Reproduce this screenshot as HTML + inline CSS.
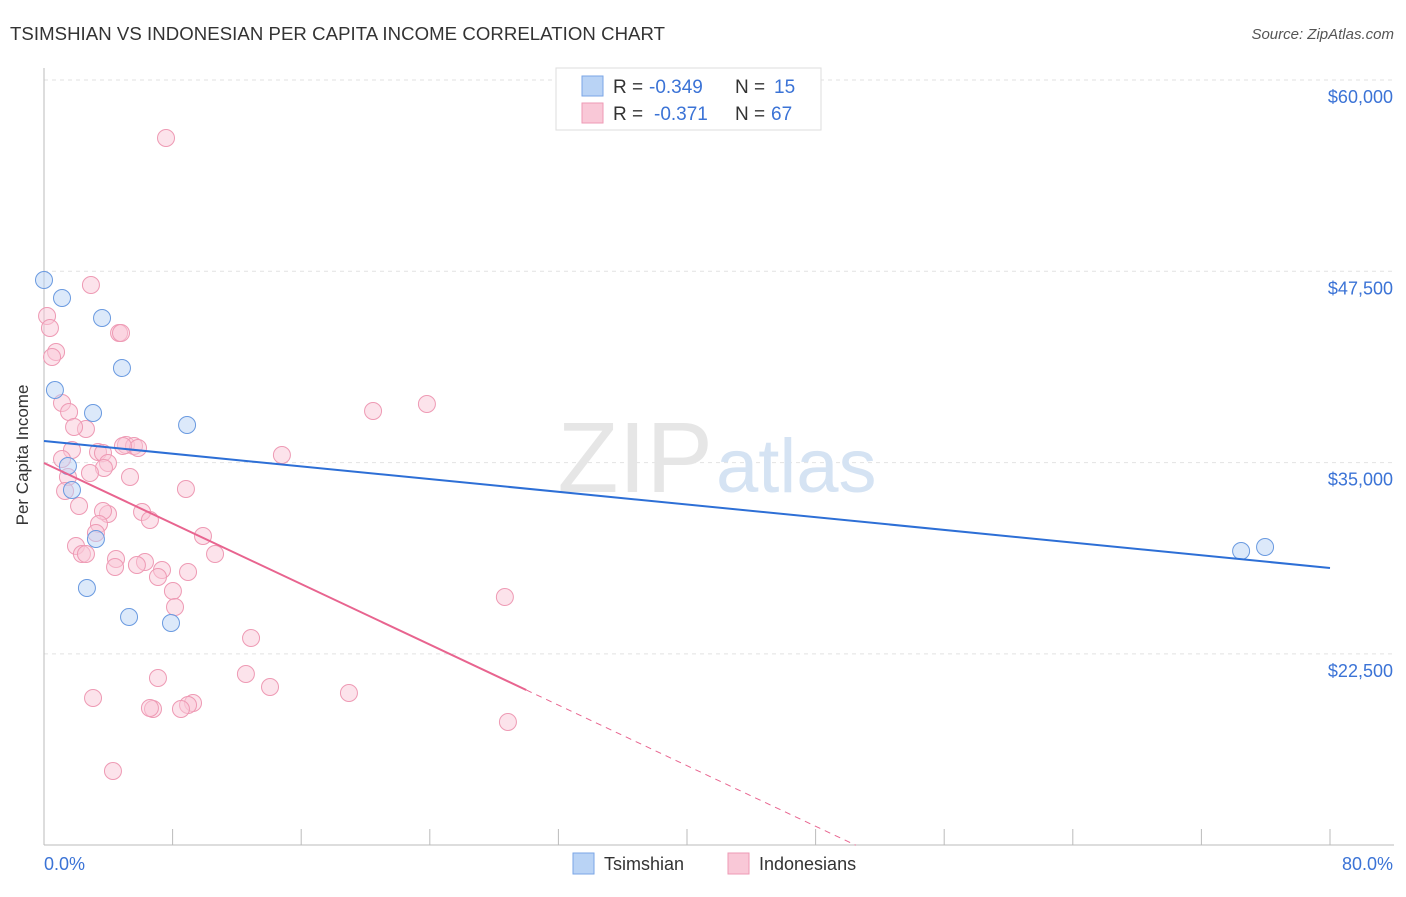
<!DOCTYPE html>
<html><head><meta charset="utf-8"><style>
body{margin:0;background:#fff;font-family:"Liberation Sans",sans-serif}
svg text{font-family:"Liberation Sans",sans-serif}
</style></head><body>
<svg id="chart" width="1406" height="892">
<text x="10" y="40" font-size="18.6" fill="#333" textLength="655">TSIMSHIAN VS INDONESIAN PER CAPITA INCOME CORRELATION CHART</text>
<text x="1394" y="39" font-size="15" fill="#555" text-anchor="end" font-style="italic">Source: ZipAtlas.com</text>
<g id="grid"></g>
<text x="713" y="492" font-size="100" fill="#e6e6e6" text-anchor="end" font-family="Liberation Serif">ZIP</text>
<text x="716" y="492" font-size="76" fill="#d5e3f3">atlas</text>
<g id="marks"></g>
<text x="28" y="455" font-size="17" fill="#333" text-anchor="middle" transform="rotate(-90 28 455)">Per Capita Income</text>
<text x="44" y="870" font-size="18" fill="#3b73d6">0.0%</text>
<text x="1393" y="870" font-size="18" fill="#3b73d6" text-anchor="end">80.0%</text>
<g>
<rect x="556" y="68" width="265" height="62" fill="#fff" stroke="#ddd"/>
<rect x="582" y="76" width="21" height="20" fill="#b9d3f5" stroke="#7aa6e6"/>
<rect x="582" y="103" width="21" height="20" fill="#f9c8d7" stroke="#ee9ab4"/>
<text x="613" y="93" font-size="19" fill="#333">R =</text>
<text x="649" y="93" font-size="19" fill="#3b73d6">-0.349</text>
<text x="735" y="93" font-size="19" fill="#333">N =</text>
<text x="774" y="93" font-size="19" fill="#3b73d6">15</text>
<text x="613" y="120" font-size="19" fill="#333">R =</text>
<text x="654" y="120" font-size="19" fill="#3b73d6">-0.371</text>
<text x="735" y="120" font-size="19" fill="#333">N =</text>
<text x="771" y="120" font-size="19" fill="#3b73d6">67</text>
</g>
<g>
<rect x="573" y="853" width="21" height="21" fill="#b9d3f5" stroke="#7aa6e6"/>
<text x="604" y="870" font-size="18" fill="#333">Tsimshian</text>
<rect x="728" y="853" width="21" height="21" fill="#f9c8d7" stroke="#ee9ab4"/>
<text x="759" y="870" font-size="18" fill="#333">Indonesians</text>
</g>
</svg>
<script>
const yTicks=[22500,35000,47500,60000];
const yTickLabels=["$22,500","$35,000","$47,500","$60,000"];
const xTicks=[0,8,16,24,32,40,48,56,64,72,80];
const blueX=[0,1.12,3.61,4.85,0.68,3.05,8.9,1.49,1.74,3.23,2.67,5.29,7.9,74.47,75.96];
const blueY=[46932,45756,44449,41182,39745,38242,37458,34779,33211,30009,26807,24912,24520,29225,29486];
const pinkX=[7.59,2.92,0.19,0.37,4.67,4.79,0.75,0.5,20.47,23.82,1.12,1.56,2.61,1.87,5.1,5.6,5.85,4.91,14.8,3.36,3.67,1.74,1.12,3.98,3.73,2.86,5.35,1.49,1.31,8.83,2.18,3.98,3.67,6.1,6.59,3.42,3.23,9.89,1.99,2.36,2.61,10.64,4.48,6.28,4.42,5.78,7.34,8.96,7.09,8.02,8.15,28.67,12.88,7.09,12.56,14.06,18.97,3.05,9.27,8.96,6.78,6.59,8.52,28.86,4.29];
const pinkY=[56210,46605,44580,43796,43469,43469,42228,41901,38372,38830,38895,38307,37196,37327,36151,36086,35955,36086,35497,35693,35628,35824,35236,34975,34648,34321,34060,34060,33145,33276,32165,31642,31838,31773,31250,30989,30401,30205,29552,29029,29029,29029,28702,28506,28179,28310,27983,27852,27526,26611,25566,26219,23540,20927,21188,20338,19946,19620,19293,19162,18901,18966,18901,18052,14850];
const blueTrend=[[0,36412],[80,28114]];
const pinkTrend=[[0,34975],[30,20143]];
const pinkDash=[[30,20143],[50.5,10000]];
const NS="http://www.w3.org/2000/svg";
const X=v=>44+v/80*1286;
const Y=v=>80+(60000-v)/12500*191.3;
function mk(t,a,p){const e=document.createElementNS(NS,t);for(const k in a)e.setAttribute(k,a[k]);p.appendChild(e);return e;}
const grid=document.getElementById('grid'),marks=document.getElementById('marks');
yTicks.forEach((v,i)=>{
 const l=mk('line',{x1:44,x2:1394,y1:Y(v),y2:Y(v),stroke:'#e2e2e2','stroke-dasharray':'4,4'},grid);
 
 
 const t=mk('text',{x:1393,y:Y(v)+23,'font-size':18,fill:'#3b73d6','text-anchor':'end'},grid);
 t.textContent=yTickLabels[i];
 
 
});
const ax=mk('line',{x1:44,x2:1394,y1:845,y2:845,stroke:'#bbb'},grid);


const ay=mk('line',{x1:44,x2:44,y1:68,y2:845,stroke:'#bbb'},grid);


xTicks.forEach(v=>{
 const t=mk('line',{x1:X(v),x2:X(v),y1:829,y2:845,stroke:'#bbb'},grid);
 
 
});
pinkX.forEach((x,i)=>{
 const c=mk('circle',{cx:X(x),cy:Y(pinkY[i]),r:8.5,fill:'rgba(249,200,215,0.5)',stroke:'#ee9ab4','stroke-width':1},marks);
 
 
});
blueX.forEach((x,i)=>{
 const c=mk('circle',{cx:X(x),cy:Y(blueY[i]),r:8.5,fill:'rgba(185,211,245,0.5)',stroke:'#6a9ae0','stroke-width':1},marks);
 
 
});
const bt=mk('line',{x1:X(blueTrend[0][0]),y1:Y(blueTrend[0][1]),x2:X(blueTrend[1][0]),y2:Y(blueTrend[1][1]),stroke:'#2d6fd6','stroke-width':2},marks);


const pt=mk('line',{x1:X(pinkTrend[0][0]),y1:Y(pinkTrend[0][1]),x2:X(pinkTrend[1][0]),y2:Y(pinkTrend[1][1]),stroke:'#e8648f','stroke-width':2},marks);


const pd=mk('line',{x1:X(pinkDash[0][0]),y1:Y(pinkDash[0][1]),x2:X(pinkDash[1][0]),y2:Y(pinkDash[1][1]),stroke:'#e8648f','stroke-width':1,'stroke-dasharray':'6,5'},marks);


</script>
</body></html>
